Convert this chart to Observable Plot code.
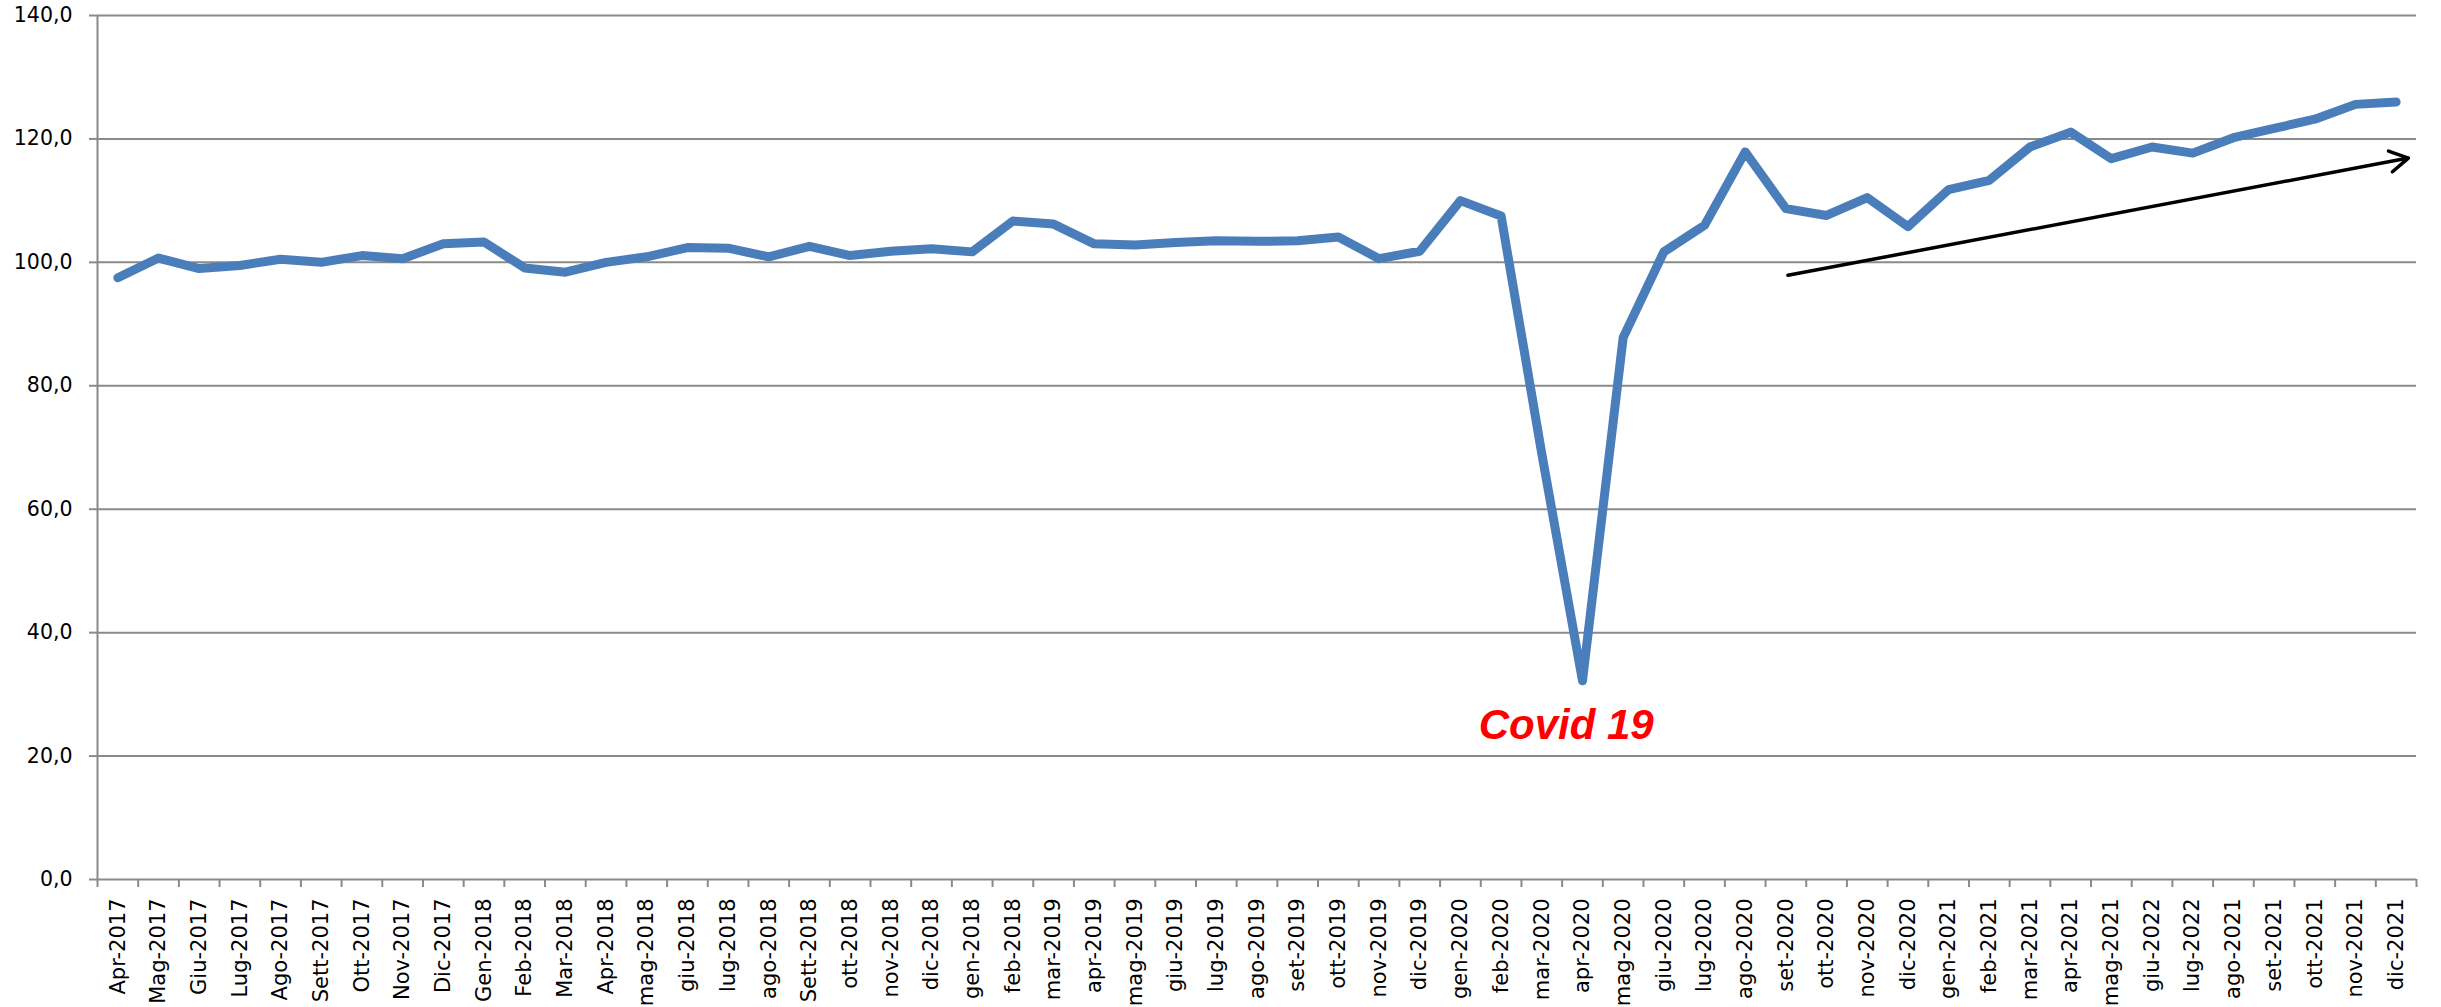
<!DOCTYPE html>
<html>
<head>
<meta charset="utf-8">
<script src="https://cdn.jsdelivr.net/npm/d3@7"></script>
<script src="https://cdn.jsdelivr.net/npm/@observablehq/plot@0.6"></script>
<style>
  html, body { margin: 0; padding: 0; background: #fff; }
  #chart svg { display: block; }
</style>
</head>
<body>
<div id="chart"></div>
<script>
const labels = [
  "Apr-2017","Mag-2017","Giu-2017","Lug-2017","Ago-2017","Sett-2017","Ott-2017","Nov-2017","Dic-2017",
  "Gen-2018","Feb-2018","Mar-2018","Apr-2018","mag-2018","giu-2018","lug-2018","ago-2018","Sett-2018",
  "ott-2018","nov-2018","dic-2018","gen-2018","feb-2018","mar-2019","apr-2019","mag-2019","giu-2019",
  "lug-2019","ago-2019","set-2019","ott-2019","nov-2019","dic-2019","gen-2020","feb-2020","mar-2020",
  "apr-2020","mag-2020","giu-2020","lug-2020","ago-2020","set-2020","ott-2020","nov-2020","dic-2020",
  "gen-2021","feb-2021","mar-2021","apr-2021","mag-2021","giu-2022","lug-2022","ago-2021","set-2021",
  "ott-2021","nov-2021","dic-2021"
];
const values = [
  97.5, 100.7, 99.0, 99.5, 100.5, 100.0, 101.1, 100.6, 103.0,
  103.3, 99.1, 98.4, 100.0, 100.9, 102.4, 102.3, 100.9, 102.6,
  101.1, 101.8, 102.2, 101.7, 106.7, 106.2, 103.0, 102.8, 103.2,
  103.5, 103.4, 103.5, 104.1, 100.6, 101.8, 110.0, 107.5, 69.0,
  32.2, 87.8, 101.7, 106.0, 117.9, 108.7, 107.6, 110.5, 105.8,
  111.8, 113.3, 118.7, 121.1, 116.8, 118.7, 117.7, 120.2, 121.7,
  123.2, 125.6, 126.0
];
const yTicks = [0, 20, 40, 60, 80, 100, 120, 140];
const trendArrow = [{x1: 41.05, y1: 97.9, x2: 56.3, y2: 116.9}];
const covidNote = [{x: 35.6, y: 25.0, text: "Covid 19"}];

const data = labels.map((label, i) => ({i, label, value: values[i]}));
const boundaries = d3.range(labels.length + 1).map(i => i - 0.5);
const gridColor = "#8a8a8a";

const chart = Plot.plot({
  width: 2441,
  height: 1007,
  marginLeft: 97,
  marginRight: 25,
  marginTop: 15,
  marginBottom: 128,
  style: {fontFamily: "'DejaVu Sans', Verdana, sans-serif", background: "#fff", color: "#000"},
  x: {type: "linear", domain: [-0.5, labels.length - 0.5]},
  y: {domain: [0, 140]},
  marks: [
    Plot.gridY(yTicks, {stroke: gridColor, strokeOpacity: 1, strokeWidth: 2}),
    Plot.ruleX([-0.5], {stroke: gridColor, strokeWidth: 2}),
    Plot.axisY({ticks: yTicks, tickSize: 8, tickFormat: () => "", stroke: gridColor, strokeWidth: 2}),
    Plot.axisY({ticks: yTicks, tickSize: 0, tickPadding: 25, fontSize: 20.5, fill: "#000",
      tickFormat: d => d.toFixed(1).replace(".", ",")}),
    Plot.axisX({ticks: boundaries, tickSize: 8, tickFormat: () => "", stroke: gridColor, strokeWidth: 2}),
    Plot.axisX({ticks: d3.range(labels.length), tickSize: 0, tickPadding: 19, tickRotate: -90,
      fontSize: 21, fill: "#000", tickFormat: i => labels[i]}),
    Plot.line(data, {x: "i", y: "value", stroke: "#4a7ebb", strokeWidth: 9,
      strokeLinejoin: "round", strokeLinecap: "round"}),
    Plot.arrow(trendArrow, {x1: "x1", y1: "y1", x2: "x2", y2: "y2", stroke: "#000",
      strokeWidth: 3.5, headLength: 9, headAngle: 60}),
    Plot.text(covidNote, {x: "x", y: "y", text: "text", fill: "#ff0000", fontSize: 42,
      fontWeight: "bold", fontStyle: "italic", fontFamily: "'Liberation Sans', Arial, sans-serif",
      textAnchor: "middle", lineAnchor: "middle"})
  ]
});
document.getElementById("chart").appendChild(chart);
</script>
</body>
</html>
